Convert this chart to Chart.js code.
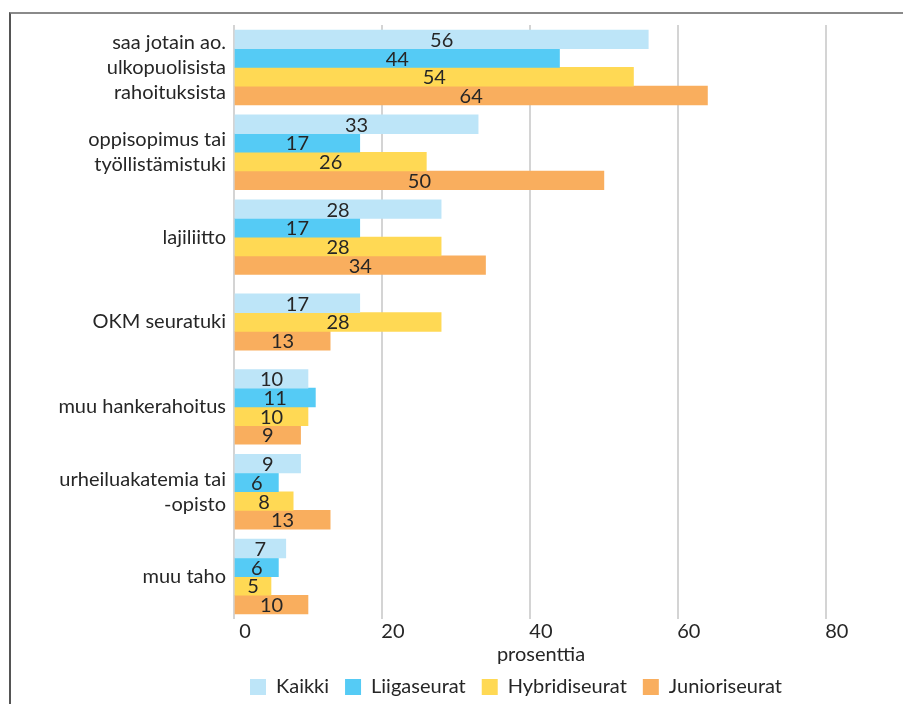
<!DOCTYPE html>
<html>
<head>
<meta charset="utf-8">
<script src="https://cdn.jsdelivr.net/npm/chart.js@4/dist/chart.umd.min.js"></script>
<style>
  html, body { margin: 0; padding: 0; background: #fff; overflow: hidden; }
  #wrap { position: relative; width: 903px; height: 704px; }
  #frame {
    position: absolute; left: 9px; top: 12px; width: 1000px; height: 1000px;
    border-left: 2px solid #555; border-top: 2px solid #8a8a8a;
  }
  #chart { position: absolute; left: 0; top: 0; }
</style>
</head>
<body>
<div id="wrap">
  <div id="frame"></div>
  <canvas id="chart" width="903" height="704"></canvas>
</div>
<script>
// Categories, top to bottom.
const CATEGORIES = [
    ['saa jotain ao.', 'ulkopuolisista', 'rahoituksista'],
    ['oppisopimus tai', 'työllistämistuki'],
    'lajiliitto',
    'OKM seuratuki',
    'muu hankerahoitus',
    ['urheiluakatemia tai', '-opisto'],
    'muu taho',
];

// Series values (percent).  null = no bar.
const KAIKKI = [56, 33, 28, 17, 10, 9, 7];
const LIIGASEURAT = [44, 17, 17, null, 11, 6, 6];
const HYBRIDISEURAT = [54, 26, 28, 28, 10, 8, 5];
const JUNIORISEURAT = [64, 50, 34, 13, 9, 13, 10];

const SERIES_NAMES = ['Kaikki', 'Liigaseurat', 'Hybridiseurat', 'Junioriseurat'];
const SERIES_COLORS = ['#bde5f8', '#55cbf5', '#ffd954', '#f9ae5e'];

const X_TICK_STEP = 20;
const X_MAX = 83;

const FONT_FAMILY = 'Lato, "Noto Sans", sans-serif';
const TEXT_COLOR = '#262626';

// Writes the value in the middle of every bar.
const barValueLabels = {
    id: 'barValueLabels',
    afterDatasetsDraw(chart) {
        const ctx = chart.ctx;
        ctx.save();
        ctx.font = '20px ' + FONT_FAMILY;
        ctx.fillStyle = TEXT_COLOR;
        ctx.textAlign = 'center';
        ctx.textBaseline = 'middle';
        chart.data.datasets.forEach(function(ds, i) {
            chart.getDatasetMeta(i).data.forEach(function(bar, j) {
                if (ds.data[j] == null) {
                    return;
                }
                const p = bar.getCenterPoint();
                ctx.fillText(String(ds.data[j]), p.x, p.y + 1);
            });
        });
        ctx.restore();
    }
};

const seriesData = [KAIKKI, LIIGASEURAT, HYBRIDISEURAT, JUNIORISEURAT];

const ctx = document.getElementById('chart').getContext('2d');
new Chart(ctx, {
    type: 'bar',
    data: {
        labels: CATEGORIES,
        datasets: seriesData.map(function(values, i) {
            return {
                label: SERIES_NAMES[i],
                data: values,
                backgroundColor: SERIES_COLORS[i],
                borderWidth: 0,
                barThickness: 18.7,
                skipNull: true,
            };
        }),
    },
    options: {
        indexAxis: 'y',
        responsive: false,
        animation: false,
        events: [],
        layout: {
            padding: { left: 20, right: 55, top: 25, bottom: -3 },
        },
        scales: {
            x: {
                min: 0,
                max: X_MAX,
                grid: {
                    color: '#d4d4d4',
                    lineWidth: 2,
                    drawTicks: false,
                },
                border: { display: false },
                ticks: {
                    stepSize: X_TICK_STEP,
                    includeBounds: false,
                    labelOffset: 11,
                    padding: 3,
                    color: TEXT_COLOR,
                    font: { family: FONT_FAMILY, size: 20, lineHeight: 1 },
                },
                title: {
                    display: true,
                    text: 'prosenttia',
                    color: TEXT_COLOR,
                    font: { family: FONT_FAMILY, size: 20, lineHeight: 1 },
                    padding: { top: 0, bottom: -4 },
                },
            },
            y: {
                grid: { display: false, drawTicks: false },
                border: { display: false },
                ticks: {
                    padding: 8,
                    color: TEXT_COLOR,
                    font: { family: FONT_FAMILY, size: 20, lineHeight: 1.25 },
                    autoSkip: false,
                },
                afterFit: function(scale) {
                    // fixed width so the plot starts where the reference does
                    scale.width = 214;
                },
            },
        },
        plugins: {
            legend: {
                position: 'bottom',
                align: 'start',
                fullSize: false,
                labels: {
                    boxWidth: 16,
                    boxHeight: 16,
                    padding: 16,
                    color: TEXT_COLOR,
                    font: { family: FONT_FAMILY, size: 20 },
                },
            },
            tooltip: { enabled: false },
        },
    },
    plugins: [barValueLabels],
});
</script>
</body>
</html>
